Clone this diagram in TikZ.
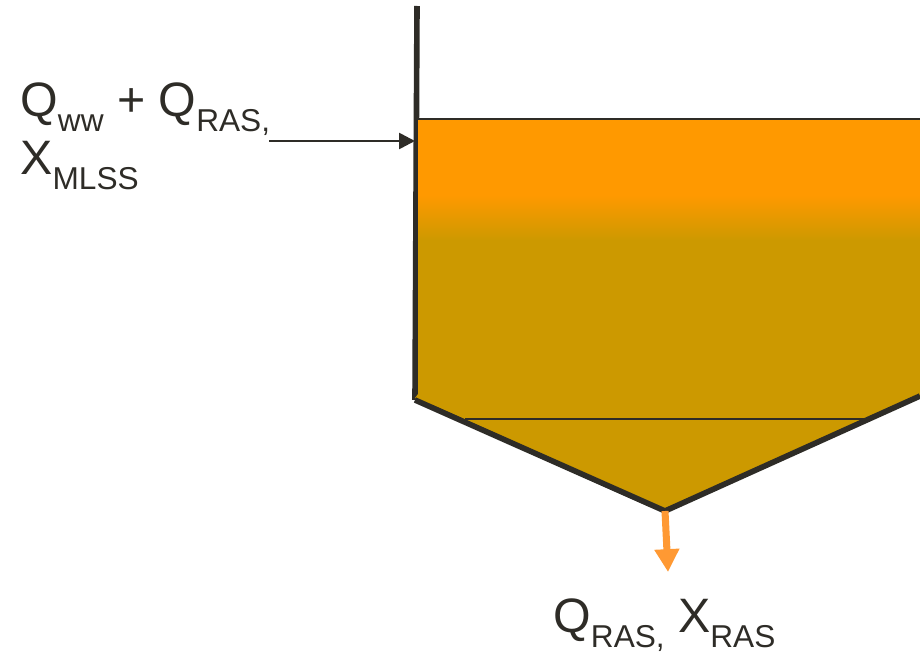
\documentclass[tikz,border=0pt]{standalone}
\usepackage{fontspec}
\setmainfont{Liberation Sans}
\usetikzlibrary{positioning,arrows.meta}
\definecolor{inkdark}{HTML}{2E2C27}
\definecolor{sludgetop}{HTML}{FF9900}
\definecolor{sludgelow}{HTML}{CC9900}
\definecolor{outflow}{HTML}{FF9933}
\newcommand{\lowtxt}[1]{\raisebox{-0.6ex}{\fontsize{18}{18}\selectfont #1}}

\begin{document}
\begin{tikzpicture}[
  x=0.02cm, y=-0.02cm,
  wall/.style={draw=inkdark, line width=3.2pt, line join=miter},
  level/.style={draw=inkdark, line width=1.6pt},
  arr/.style={-{Triangle[length=9pt, width=9pt]}, draw=inkdark, line width=1.5pt},
  outarr/.style={-{Triangle[length=13pt, width=13.5pt]}, draw=outflow, line width=4pt},
  lbl/.style={font=\fontsize{27.5}{33}\selectfont, text=inkdark, inner sep=0pt, align=left},
]
\useasboundingbox (0,0) rectangle (920,652);

%% Nodes
\coordinate (walltop) at (417,6);
\coordinate (wallbase) at (415,400);
\coordinate (surfleft) at (417,119);
\coordinate (surfright) at (920,119);
\coordinate (coneleft) at (465,419);
\coordinate (coneright) at (865,419);
\coordinate (conetip) at (665,511);
\coordinate (coneedge) at (920,396);
\coordinate (inlet) at (269,141);
\coordinate (inwall) at (415,141);
\coordinate (outtip) at (668,572);

\node[lbl, anchor=north west] (inlbl) at (20,82)
  {Q\lowtxt{ww} + Q\lowtxt{RAS,}\\X\lowtxt{MLSS}};
\node[lbl, anchor=north west] (outlbl) at (553,598)
  {Q\lowtxt{RAS,} X\lowtxt{RAS}};

%% Tank outline
\draw[wall] (walltop) -- (wallbase);

%% Tank contents
\begin{scope}
  \clip (418,120) -- (920,120) -- (920,396) -- (665,510) -- (415,398) -- (418,394) -- cycle;
  \fill[sludgetop] (410,118) rectangle (920,196);
  \shade[top color=sludgetop, bottom color=sludgelow] (410,195) rectangle (920,241);
  \fill[sludgelow] (410,240) rectangle (920,515);
\end{scope}

\draw[wall] (wallbase) -- (conetip) -- (coneedge);
\draw[level] (surfleft) -- (surfright);
\draw[level] (coneleft) -- (coneright);

%% Flows
\draw[arr] (inlet) -- (inwall);
\draw[outarr] (conetip) -- (outtip);

\end{tikzpicture}
\end{document}
